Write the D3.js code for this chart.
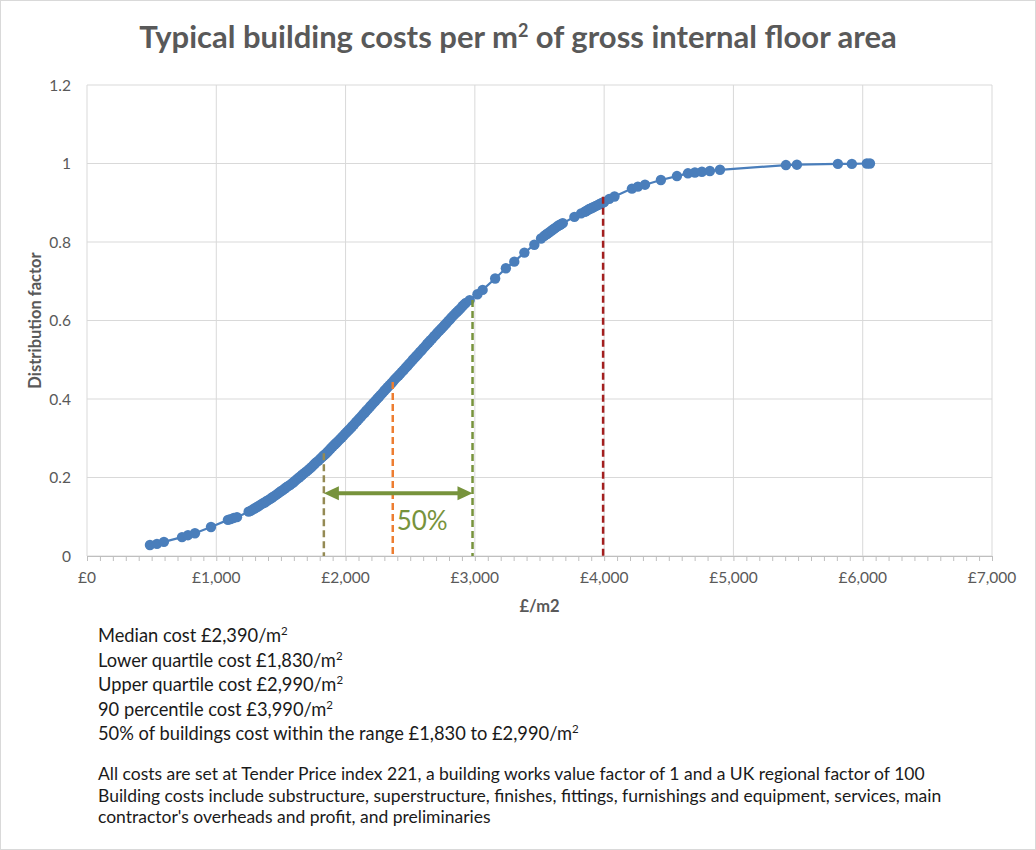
<!DOCTYPE html>
<html><head><meta charset="utf-8">
<script src="https://cdn.jsdelivr.net/npm/d3@7"></script>
<style>
body{margin:0;background:#fff;}
text{font-family:Lato,"Open Sans",sans-serif;}
</style></head>
<body><svg id="c" width="1036" height="850"></svg>
<script>
// ---- data ----
const costs = [487,541,595,735,781,835,959,1090,1110,1135,1160,
1250,1265,1280,1295,1310,1322,1335,1350,1365,1378,1390,1405,1420,1432,1445,1460,1475,1488,1500,1515,1530,1542,1555,1570,1585,1598,1610,1625,1640,1652,1665,1680,1695,1708,1720,1735,1750,1762,1775,1790,1805,1818,1830,1845,1860,1872,1885,1900,1915,1928,1940,1955,1970,1982,1995,2010,2025,2038,2050,2065,2080,2092,2105,2120,2135,2148,2160,2175,2190,2202,2215,2230,2245,2258,2270,2285,2300,2312,2325,2340,2355,2368,2380,2395,2410,2422,2435,2450,2465,2478,2490,2505,2520,2532,2545,2560,2575,2588,2600,2615,2630,2642,2655,2670,2685,2698,2710,2725,2740,2752,2765,2780,2795,2808,2820,2835,2850,2862,2875,2890,2905,2918,2930,
2960,3020,3060,3157,3240,3305,3383,3460,3512,3535,3547,3560,3572,3585,3597,3610,3622,3635,3647,3660,3670,3680,3770,3822,3850,3862,3875,3887,3900,3912,3925,3937,3950,3962,3975,3987,4000,4040,4080,
4215,4261,4316,4439,4563,4648,4702,4756,4818,4896,5406,5491,5808,5916,6032,6056];
const factors = [0.028,0.031,0.036,0.048,0.053,0.058,0.074,0.092,0.094,0.097,0.099,
0.113,0.115,0.118,0.121,0.124,0.126,0.129,0.132,0.135,0.137,0.140,0.143,0.146,0.149,0.152,0.155,0.159,0.162,0.165,0.168,0.172,0.175,0.178,0.181,0.185,0.188,0.192,0.196,0.200,0.203,0.207,0.211,0.215,0.218,0.222,0.226,0.231,0.235,0.239,0.243,0.248,0.252,0.256,0.260,0.265,0.269,0.274,0.279,0.284,0.288,0.292,0.297,0.302,0.306,0.311,0.316,0.321,0.325,0.330,0.335,0.341,0.345,0.350,0.355,0.361,0.365,0.370,0.375,0.381,0.385,0.390,0.395,0.401,0.405,0.410,0.415,0.421,0.425,0.430,0.435,0.440,0.445,0.450,0.455,0.460,0.464,0.469,0.474,0.480,0.484,0.489,0.494,0.500,0.504,0.509,0.514,0.520,0.524,0.529,0.534,0.540,0.544,0.549,0.554,0.560,0.564,0.569,0.574,0.579,0.583,0.588,0.593,0.599,0.603,0.608,0.613,0.618,0.622,0.626,0.631,0.637,0.641,0.645,
0.652,0.667,0.678,0.707,0.733,0.750,0.773,0.793,0.809,0.815,0.818,0.821,0.824,0.827,0.830,0.833,0.836,0.839,0.842,0.844,0.846,0.848,0.864,0.873,0.877,0.879,0.882,0.884,0.886,0.888,0.890,0.892,0.894,0.896,0.898,0.900,0.902,0.910,0.916,
0.936,0.941,0.946,0.958,0.968,0.975,0.977,0.979,0.981,0.984,0.996,0.997,0.999,0.999,1.0,1.0];
const markerNames = ["Lower quartile","Median","Upper quartile","90 percentile"];
const markerCosts = [1832,2365,2982,3992];
const markerTops = [0.262,0.443,0.652,0.915];
const xTicks = [0,1000,2000,3000,4000,5000,6000,7000];
const yTicks = [0,0.2,0.4,0.6,0.8,1,1.2];
const yTickLabels = ["0","0.2","0.4","0.6","0.8","1","1.2"];
const rangeFrom = 1832, rangeTo = 2982, rangeLabel = "50%";
const summaryLines = [
 ["Median cost £2,390/m","2"],
 ["Lower quartile cost £1,830/m","2"],
 ["Upper quartile cost £2,990/m","2"],
 ["90 percentile cost £3,990/m","2"],
 ["50% of buildings cost within the range £1,830 to £2,990/m","2"]];
const noteLines = [
 "All costs are set at Tender Price index 221, a building works value factor of 1 and a UK regional factor of 100",
 "Building costs include substructure, superstructure, finishes, fittings, furnishings and equipment, services, main",
 "contractor's overheads and profit, and preliminaries"];

// ---- drawing ----
const svg = d3.select("#c");
const L=87,R=992,T=85,B=556;
const x = d3.scaleLinear().domain([0,7000]).range([L,R]);
const y = d3.scaleLinear().domain([0,1.2]).range([B,T]);
const grey="#595959";

svg.append("rect").attr("x",0.5).attr("y",0.5).attr("width",1035).attr("height",849)
  .attr("fill","#fff").attr("stroke","#d9d9d9");

// title
const tt = svg.append("text").attr("x",518).attr("y",48).attr("text-anchor","middle")
  .attr("font-size",31).attr("font-weight",700).attr("fill",grey);
tt.append("tspan").text("Typical building costs per m");
tt.append("tspan").attr("font-size",18).attr("dy",-11).text("2");
tt.append("tspan").attr("dy",11).text(" of gross internal floor area");

// gridlines
svg.append("g").selectAll("line").data(yTicks).join("line")
  .attr("x1",L).attr("x2",R).attr("y1",d=>y(d)).attr("y2",d=>y(d))
  .attr("stroke","#d9d9d9").attr("stroke-width",1);
svg.append("g").selectAll("line").data(xTicks).join("line")
  .attr("x1",d=>x(d)).attr("x2",d=>x(d)).attr("y1",T).attr("y2",B)
  .attr("stroke","#d9d9d9").attr("stroke-width",1);

// x axis
const xa = svg.append("g").attr("transform",`translate(0,${B})`)
  .call(d3.axisBottom(x).tickValues(d3.range(0,7001,100)).tickSize(5).tickFormat(""));
xa.select(".domain").attr("stroke","#bfbfbf");
xa.selectAll(".tick line").attr("stroke","#bfbfbf");
svg.append("g").selectAll("text").data(xTicks).join("text")
  .attr("x",d=>x(d)).attr("y",B+27).attr("text-anchor","middle")
  .attr("font-size",15.5).attr("fill",grey).text(d=>"£"+d3.format(",")(d));
// y labels
svg.append("g").selectAll("text").data(yTicks).join("text")
  .attr("x",L-16).attr("y",d=>y(d)+5.5).attr("text-anchor","end")
  .attr("font-size",15.5).attr("fill",grey).text((d,i)=>yTickLabels[i]);

// axis titles
svg.append("text").attr("transform",`translate(41,${(T+B)/2}) rotate(-90)`)
  .attr("text-anchor","middle").attr("font-size",16.5).attr("font-weight",700)
  .attr("fill",grey).text("Distribution factor");
svg.append("text").attr("x",(L+R)/2).attr("y",612).attr("text-anchor","middle")
  .attr("font-size",16.5).attr("font-weight",700).attr("fill",grey).text("£/m2");

// series
const pts = costs.map((c,i)=>[c,factors[i]]);
const blue="#4a7ebb";
svg.append("path").datum(pts).attr("fill","none").attr("stroke",blue).attr("stroke-width",2.2)
  .attr("d",d3.line().x(d=>x(d[0])).y(d=>y(d[1])));
svg.append("g").selectAll("circle").data(pts).join("circle")
  .attr("cx",d=>x(d[0])).attr("cy",d=>y(d[1])).attr("r",5.2).attr("fill",blue);

// marker lines
const mColors=["#948a54","#ed7d31","#77933c","#a31f1f"];
svg.append("g").selectAll("line").data(markerCosts).join("line")
  .attr("x1",d=>x(d)).attr("x2",d=>x(d)).attr("y1",(d,i)=>y(markerTops[i])).attr("y2",B)
  .attr("stroke",(d,i)=>mColors[i]).attr("stroke-width",2.5).attr("stroke-dasharray","7,4");

// range arrow
const green="#77933c";
const ay = y(0.16);
svg.append("line").attr("x1",x(rangeFrom)+12).attr("x2",x(rangeTo)-12).attr("y1",ay).attr("y2",ay)
  .attr("stroke",green).attr("stroke-width",4);
const ah = (tip,dir)=>`M${tip},${ay} L${tip+dir*15},${ay-7} L${tip+dir*15},${ay+7} Z`;
svg.append("path").attr("d",ah(x(rangeFrom),1)).attr("fill",green);
svg.append("path").attr("d",ah(x(rangeTo),-1)).attr("fill",green);
svg.append("text").attr("x",x(2395)).attr("y",y(0.066)).attr("font-size",26)
  .attr("fill",green).text(rangeLabel);

// summary text
summaryLines.forEach((s,i)=>{
  const t = svg.append("text").attr("x",98).attr("y",642+i*24.5).attr("font-size",18.3).attr("fill","#1a1a1a");
  t.append("tspan").text(s[0]);
  t.append("tspan").attr("font-size",11.5).attr("dy",-7).text(s[1]);
});
noteLines.forEach((s,i)=>{
  svg.append("text").attr("x",98).attr("y",780+i*21.5).attr("font-size",17.5).attr("fill","#1a1a1a").text(s);
});
</script></body></html>
